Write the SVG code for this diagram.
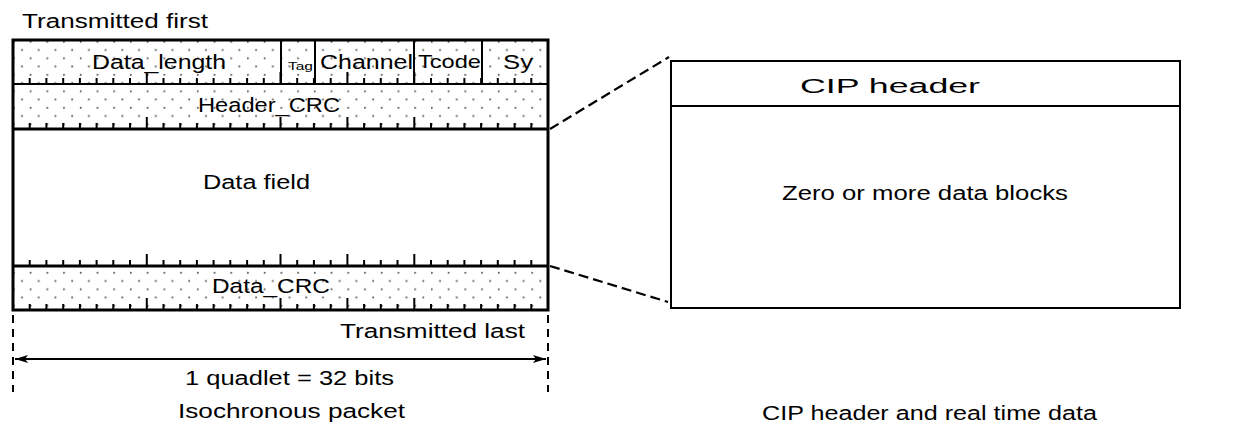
<svg xmlns="http://www.w3.org/2000/svg" width="1235" height="423" viewBox="0 0 1235 423">
<style>
text{font-family:"Liberation Sans",Arial,Helvetica,sans-serif;font-size:20px;fill:#000}
.thick{stroke:#000;stroke-width:3;fill:none}
.thin{stroke:#000;stroke-width:2;fill:none}
.dash{stroke:#000;stroke-width:2.2;fill:none;stroke-dasharray:10 5}
.vdash{stroke:#000;stroke-width:2;fill:none;stroke-dasharray:8 6}
.tick{stroke:#000;stroke-width:2;fill:none}
</style>
<defs>
<pattern id="dots" patternUnits="userSpaceOnUse" x="13" y="40" width="16.72" height="16.5">
<circle cx="9" cy="10" r="1.1" fill="#666"/>
<circle cx="0.8" cy="1.8" r="1.1" fill="#666"/>
</pattern>
<g id="ticks">
<path class="tick" d="M29.7 0v-6M46.4 0v-6M63.2 0v-6M79.9 0v-6M96.6 0v-6M113.3 0v-6M130 0v-6M146.8 0v-12M163.5 0v-6M180.2 0v-6M196.9 0v-6M213.6 0v-6M230.3 0v-6M247.1 0v-6M263.8 0v-6M280.5 0v-12M297.2 0v-6M313.9 0v-6M330.7 0v-6M347.4 0v-12M364.1 0v-6M380.8 0v-6M397.5 0v-6M414.3 0v-12M431 0v-6M447.7 0v-6M464.4 0v-6M481.1 0v-6M497.8 0v-6M514.6 0v-6M531.3 0v-6"/>
</g>
<marker id="arr" markerWidth="14" markerHeight="10" refX="13" refY="5" orient="auto-start-reverse" markerUnits="userSpaceOnUse">
<path d="M0 1L13 5L0 9L3 5Z" fill="#000"/>
</marker>
</defs>
<rect width="1235" height="423" fill="#fff"/>

<text x="22" y="28" textLength="186" lengthAdjust="spacingAndGlyphs">Transmitted first</text>

<g id="packet">
<rect x="13" y="40" width="535" height="89" fill="url(#dots)"/>
<rect x="13" y="266" width="535" height="44" fill="url(#dots)"/>
<use href="#ticks" y="84"/>
<use href="#ticks" y="129"/>
<use href="#ticks" y="266"/>
<use href="#ticks" y="310"/>
<line class="thin" x1="13" y1="84" x2="548" y2="84"/>
<line class="thin" x1="281" y1="40" x2="281" y2="84"/>
<line class="thin" x1="315" y1="40" x2="315" y2="84"/>
<line class="thin" x1="414" y1="40" x2="414" y2="84"/>
<line class="thin" x1="482" y1="40" x2="482" y2="84"/>
<line class="thick" x1="13" y1="129" x2="548" y2="129"/>
<line class="thick" x1="13" y1="266" x2="548" y2="266"/>
<rect class="thick" x="13" y="40" width="535" height="270"/>
</g>

<g id="field-data-length"><text x="92" y="69" textLength="134" lengthAdjust="spacingAndGlyphs">Data_length</text></g>
<g id="field-tag"><text x="288" y="70" style="font-size:11px" textLength="25" lengthAdjust="spacingAndGlyphs">Tag</text></g>
<g id="field-channel"><text x="320" y="69" textLength="93" lengthAdjust="spacingAndGlyphs">Channel</text></g>
<g id="field-tcode"><text x="418" y="68" style="font-size:19px" textLength="63" lengthAdjust="spacingAndGlyphs">Tcode</text></g>
<g id="field-sy"><text x="503" y="69" textLength="30" lengthAdjust="spacingAndGlyphs">Sy</text></g>
<g id="field-header-crc"><text x="198" y="112" textLength="142" lengthAdjust="spacingAndGlyphs">Header_CRC</text></g>
<g id="field-data"><text x="203" y="189" textLength="107" lengthAdjust="spacingAndGlyphs">Data field</text></g>
<g id="field-data-crc"><text x="212" y="293" textLength="118" lengthAdjust="spacingAndGlyphs">Data_CRC</text></g>

<text x="340" y="338" textLength="185" lengthAdjust="spacingAndGlyphs">Transmitted last</text>

<g id="dimension">
<line class="vdash" x1="13" y1="315" x2="13" y2="392"/>
<line class="vdash" x1="548" y1="315" x2="548" y2="392"/>
<line stroke="#000" stroke-width="2" x1="15" y1="359" x2="546" y2="359" marker-start="url(#arr)" marker-end="url(#arr)"/>
<text x="185" y="385" textLength="209" lengthAdjust="spacingAndGlyphs">1 quadlet = 32 bits</text>
</g>

<text x="178" y="418" textLength="227" lengthAdjust="spacingAndGlyphs">Isochronous packet</text>

<g id="cip">
<rect class="thin" x="671" y="61" width="509" height="247" fill="#fff"/>
<line class="thin" x1="671" y1="106" x2="1180" y2="106"/>
<text x="800" y="93" textLength="180" lengthAdjust="spacingAndGlyphs">CIP header</text>
<text x="782" y="200" textLength="286" lengthAdjust="spacingAndGlyphs">Zero or more data blocks</text>
</g>

<g id="connectors">
<line class="dash" x1="550" y1="129" x2="669" y2="57"/>
<line class="dash" x1="550" y1="266" x2="668" y2="302"/>
</g>

<text x="762" y="420" textLength="335" lengthAdjust="spacingAndGlyphs">CIP header and real time data</text>
</svg>
